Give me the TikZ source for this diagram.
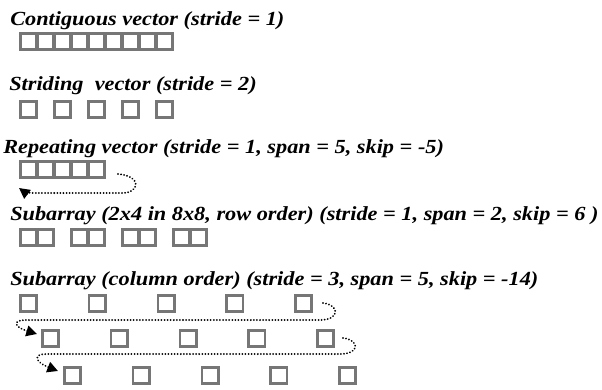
\documentclass[tikz,border=0pt]{standalone}
\usepackage{fontspec}
\setmainfont{Liberation Serif}[FakeStretch=1.115]
\usepackage{xcolor}
\usetikzlibrary{arrows.meta}
\definecolor{cellgray}{RGB}{118,118,118}

\begin{document}
\begin{tikzpicture}[x=0.75pt, y=-0.75pt,
  cell/.style={draw=cellgray, line width=2pt, minimum size=12.25pt, inner sep=0pt, anchor=north west},
  title/.style={anchor=base west, inner sep=0pt, font=\fontsize{15}{18}\selectfont\bfseries\itshape},
  wrap/.style={line width=1.5pt, line cap=round, dash pattern=on 0.01pt off 2.3pt, -{Triangle[length=8pt,width=8pt]}}]

\useasboundingbox (0,0) rectangle (602,389);

\node[title] (T1) at (10,25) {Contiguous vector (stride = 1)};
\foreach \i in {1,...,9}
  \node[cell] (a\i) at ({19+17*(\i-1)},32) {};

\node[title] (T2) at (9,90) {Striding\ \ vector (stride = 2)};
\foreach \i in {1,...,5}
  \node[cell] (b\i) at ({19+34*(\i-1)},100) {};

\node[title] (T3) at (3,153) {Repeating vector (stride = 1, span = 5, skip = -5)};
\foreach \i in {1,...,5}
  \node[cell] (r\i) at ({19+17*(\i-1)},160) {};

\coordinate (RS) at (118,174);
\coordinate (RE) at (19,188);
\draw[wrap] (RS) .. controls (142,176) and (140,193) .. (122,193) -- (34,193) .. controls (27,193) and (23,191) .. (RE);

\node[title] (T4) at (10,220) {Subarray (2x4 in 8x8, row order) (stride = 1, span = 2, skip = 6 )};
\foreach \j in {0,...,3}
  \foreach \k in {0,1}
    \node[cell] (s\j\k) at ({19+51*\j+17*\k},228) {};

\node[title] (T5) at (10,285) {Subarray (column order) (stride = 3, span = 5, skip = -14)};
\foreach \row/\xo/\yo in {1/19/294, 2/41/329, 3/63/366}
  \foreach \i in {1,...,5}
    \node[cell] (c\row\i) at ({\xo+68.75*(\i-1)},\yo) {};

\coordinate (A1) at (323,303);
\coordinate (B1) at (37,334);
\coordinate (A2) at (343,338);
\coordinate (B2) at (58,371);
\draw[wrap] (A1) .. controls (340,305) and (340,320) .. (320,320) -- (26,320) .. controls (12,320) and (14,327) .. (B1);
\draw[wrap] (A2) .. controls (360,340) and (360,354) .. (340,354) -- (46,354) .. controls (33,354) and (35,362) .. (B2);
\end{tikzpicture}
\end{document}
